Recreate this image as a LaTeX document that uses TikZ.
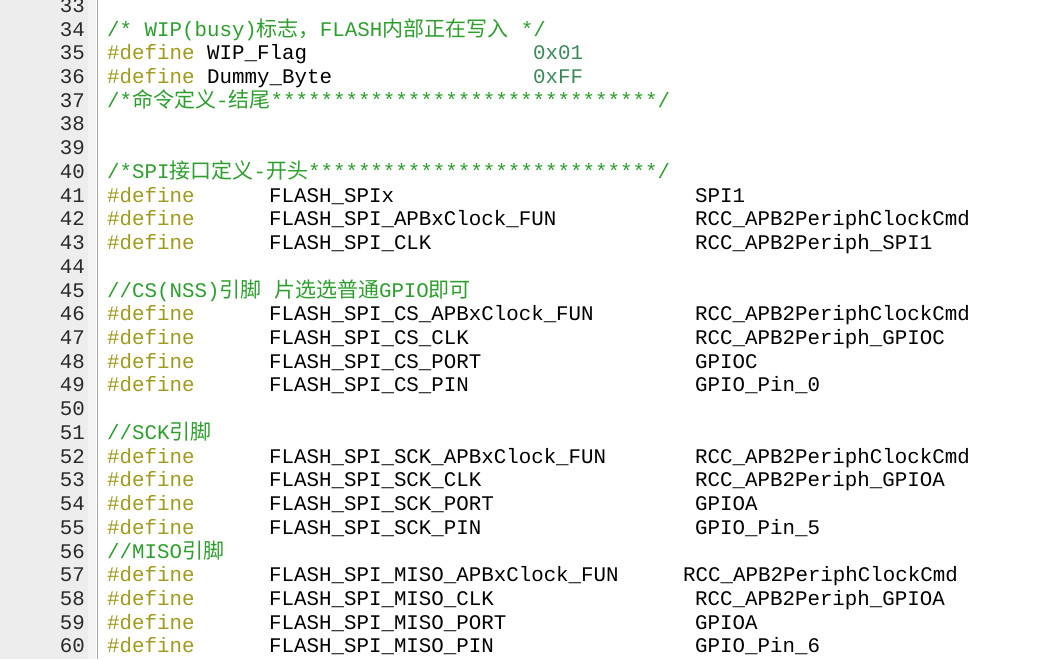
\documentclass[tikz,border=0pt]{standalone}
\usepackage{fontspec}
\setmonofont{Liberation Mono}
\newfontfamily\cjk{Noto Sans CJK SC}
\newcommand{\Cj}[1]{{\cjk\fontsize{21}{21}\selectfont #1}}
\definecolor{gut}{HTML}{EDEDED}
\definecolor{gut2}{HTML}{F4F4F4}
\definecolor{cmt}{HTML}{2E9E2E}
\definecolor{kw}{HTML}{A09A1E}
\definecolor{num}{HTML}{3C8A5A}
\definecolor{lnc}{HTML}{2A2A2A}
\begin{document}
\begin{tikzpicture}[x=1pt,y=-1pt,
  t/.style={anchor=base west,inner sep=0pt,font=\ttfamily\fontsize{20.8}{20.8}\selectfont},
  ln/.style={anchor=base east,inner sep=0pt,text=lnc,font=\ttfamily\fontsize{20.8}{20.8}\selectfont},
  c/.style={t,text=cmt},k/.style={t,text=kw},n/.style={t,text=num}]
\useasboundingbox (0,0) rectangle (1042,659);
\fill[white] (0,0) rectangle (1042,659);
\fill[gut] (0,0) rectangle (88,659);
\fill[gut2] (88,0) rectangle (96,659);
\draw[gray!70,line width=1] (97,0) -- (97,659);
\foreach \i in {33,...,60}{
  \pgfmathsetmacro\yy{29+(\i-34)*23.73+7}
  \node[ln] (l\i) at (85,\yy) {\i};
}
\def\Y#1{29+(#1-34)*23.73+7}
\node[c] (c34) at (107,{\Y{34}}) {/* WIP(busy)\Cj{标志，}FLASH\Cj{内部正在写入} */};
\node[k] (d35) at (107,{\Y{35}}) {\#define}; \node[t] (a35) at (207,{\Y{35}}) {WIP\_Flag}; \node[n] (b35) at (533,{\Y{35}}) {0x01};
\node[k] (d36) at (107,{\Y{36}}) {\#define}; \node[t] (a36) at (207,{\Y{36}}) {Dummy\_Byte}; \node[n] (b36) at (533,{\Y{36}}) {0xFF};
\node[c] (c37) at (107,{\Y{37}}) {/*\Cj{命令定义}-\Cj{结尾}*******************************/};
\node[c] (c40) at (107,{\Y{40}}) {/*SPI\Cj{接口定义}-\Cj{开头}****************************/};
\foreach \i/\a/\b in {41/FLASH\_SPIx/SPI1,42/FLASH\_SPI\_APBxClock\_FUN/RCC\_APB2PeriphClockCmd,43/FLASH\_SPI\_CLK/RCC\_APB2Periph\_SPI1,
46/FLASH\_SPI\_CS\_APBxClock\_FUN/RCC\_APB2PeriphClockCmd,47/FLASH\_SPI\_CS\_CLK/RCC\_APB2Periph\_GPIOC,48/FLASH\_SPI\_CS\_PORT/GPIOC,49/FLASH\_SPI\_CS\_PIN/GPIO\_Pin\_0,
52/FLASH\_SPI\_SCK\_APBxClock\_FUN/RCC\_APB2PeriphClockCmd,53/FLASH\_SPI\_SCK\_CLK/RCC\_APB2Periph\_GPIOA,54/FLASH\_SPI\_SCK\_PORT/GPIOA,55/FLASH\_SPI\_SCK\_PIN/GPIO\_Pin\_5,
58/FLASH\_SPI\_MISO\_CLK/RCC\_APB2Periph\_GPIOA,59/FLASH\_SPI\_MISO\_PORT/GPIOA,60/FLASH\_SPI\_MISO\_PIN/GPIO\_Pin\_6}{
  \node[k] (d\i) at (107,{\Y{\i}}) {\#define};
  \node[t] (a\i) at (269,{\Y{\i}}) {\a};
  \node[t] (b\i) at (695,{\Y{\i}}) {\b};
}
\node[k] (d57) at (107,{\Y{57}}) {\#define};
\node[t] (a57) at (269,{\Y{57}}) {FLASH\_SPI\_MISO\_APBxClock\_FUN};
\node[t] (b57) at (683,{\Y{57}}) {RCC\_APB2PeriphClockCmd};
\node[c] (c45) at (107,{\Y{45}}) {//CS(NSS)\Cj{引脚} \Cj{片选选普通}GPIO\Cj{即可}};
\node[c] (c51) at (107,{\Y{51}}) {//SCK\Cj{引脚}};
\node[c] (c56) at (107,{\Y{56}}) {//MISO\Cj{引脚}};
\end{tikzpicture}
\end{document}
